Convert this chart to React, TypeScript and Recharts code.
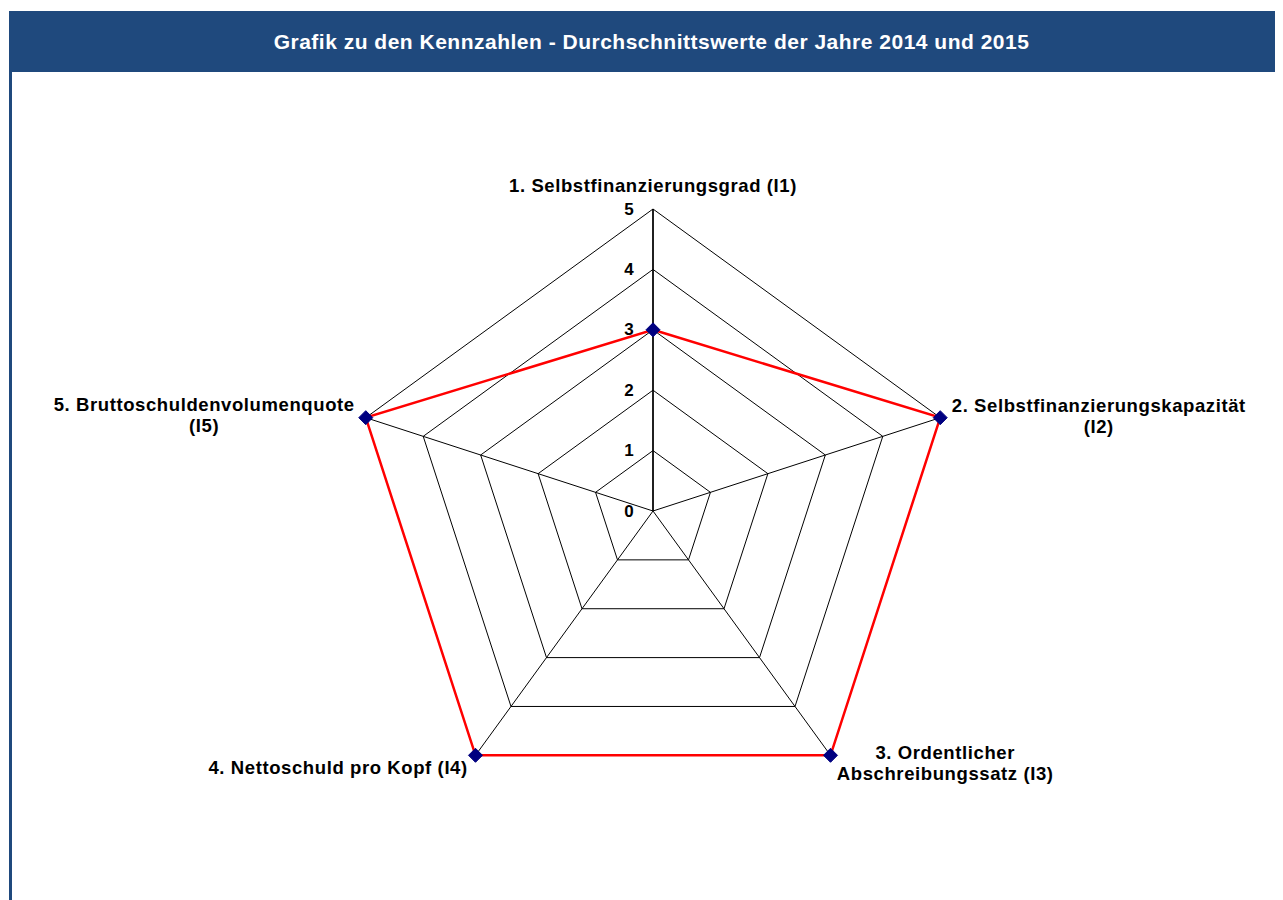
import React from "react";
import {
  RadarChart,
  Radar,
  PolarGrid,
  PolarAngleAxis,
  PolarRadiusAxis,
} from "recharts";

// Kennzahlen (two-line labels split on "\n")
const categories = [
  "1. Selbstfinanzierungsgrad (I1)",
  "2. Selbstfinanzierungskapazität\n(I2)",
  "3. Ordentlicher\nAbschreibungssatz (I3)",
  "4. Nettoschuld pro Kopf (I4)",
  "5. Bruttoschuldenvolumenquote\n(I5)",
];
const averages = [3, 5, 5, 5, 5];
const radiusTicks = [0, 1, 2, 3, 4, 5];

const TITLE = "Grafik zu den Kennzahlen - Durchschnittswerte der Jahre 2014 und 2015";
const HEADER_BLUE = "#1f497d";
const FONT = "'Liberation Sans', Arial, sans-serif";

const rows = categories.map((name, i) => ({ name, value: averages[i] }));

// label placement relative to each tick anchor
const LABEL_OFFSETS = [
  { dx: 0, dy: -16, anchor: "middle" },
  { dx: 151, dy: -10, anchor: "middle" },
  { dx: 110, dy: -10, anchor: "middle" },
  { dx: -3, dy: 5, anchor: "end" },
  { dx: -154, dy: -11, anchor: "middle" },
];

function AngleTick(props: any) {
  const { x, y, payload, index } = props;
  const o = LABEL_OFFSETS[index] ?? { dx: 0, dy: 0, anchor: "middle" };
  const lines = String(payload.value).split("\n");
  return (
    <text
      x={x + o.dx}
      y={y + o.dy}
      textAnchor={o.anchor}
      dominantBaseline="central"
      fontFamily={FONT}
      fontWeight="bold"
      fontSize={18.5}
      letterSpacing={0.6}
      fill="#000"
    >
      {lines.map((l, i) => (
        <tspan key={i} x={x + o.dx} dy={i === 0 ? 0 : 21}>
          {l}
        </tspan>
      ))}
    </text>
  );
}

function RadiusTick(props: any) {
  const { x, y, payload } = props;
  return (
    <text
      x={x - 24}
      y={y}
      textAnchor="middle"
      dominantBaseline="central"
      fontFamily={FONT}
      fontWeight="bold"
      fontSize={17}
      fill="#000"
    >
      {payload.value}
    </text>
  );
}

function Diamond(props: any) {
  const { cx, cy, index } = props;
  const s = 7;
  return (
    <polygon
      key={`d-${index}`}
      points={`${cx},${cy - s} ${cx + s},${cy} ${cx},${cy + s} ${cx - s},${cy}`}
      fill="#000080"
      stroke="#000080"
    />
  );
}

export default function App() {
  return (
    <div style={{ position: "relative", width: 1275, height: 892, overflow: "hidden", background: "#fff" }}>
      <div
        style={{
          position: "absolute",
          left: 1,
          top: 3,
          width: 1274,
          height: 61,
          boxSizing: "border-box",
          paddingLeft: 11,
          background: HEADER_BLUE,
          color: "#fff",
          fontFamily: FONT,
          fontWeight: "bold",
          fontSize: 21,
          letterSpacing: 0.5,
          display: "flex",
          alignItems: "center",
          justifyContent: "center",
        }}
      >
        {TITLE}
      </div>
      <div
        style={{
          position: "absolute",
          left: 1,
          top: 64,
          width: 2.5,
          height: 828,
          background: HEADER_BLUE,
        }}
      />
      <div style={{ position: "absolute", left: 0, top: 0 }}>
        <RadarChart
          width={1275}
          height={892}
          data={rows}
          cx={645}
          cy={503}
          outerRadius={302}
          margin={{ top: 0, right: 0, bottom: 0, left: 0 }}
        >
          <PolarGrid gridType="polygon" stroke="#000" strokeWidth={1} />
          <PolarAngleAxis
            dataKey="name"
            tick={<AngleTick />}
            tickLine={false}
            axisLine={false}
          />
          <PolarRadiusAxis
            angle={90}
            domain={[0, 5]}
            ticks={radiusTicks}
            tickCount={6}
            tick={<RadiusTick />}
            tickLine={false}
            axisLine={{ stroke: "#000", strokeWidth: 1.5 }}
          />
          <Radar
            dataKey="value"
            stroke="#ff0000"
            strokeWidth={2.5}
            fill="none"
            fillOpacity={0}
            dot={Diamond}
            isAnimationActive={false}
          />
        </RadarChart>
      </div>
    </div>
  );
}
